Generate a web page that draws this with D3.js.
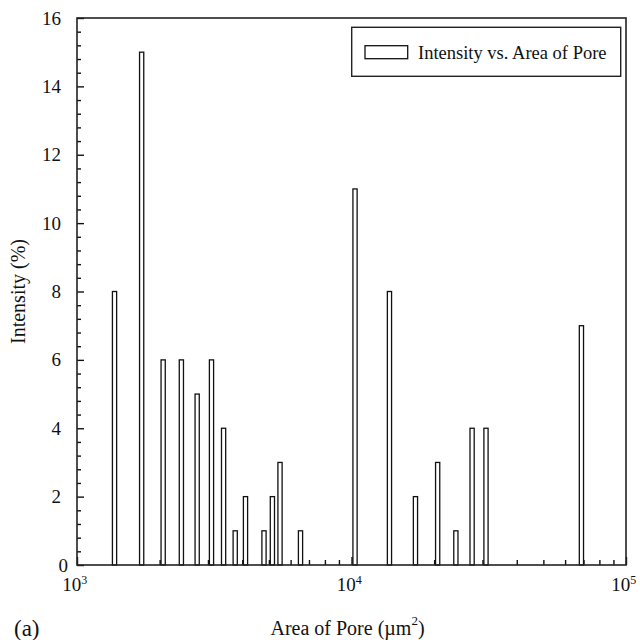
<!DOCTYPE html>
<html>
<head>
<meta charset="utf-8">
<script src="https://cdn.jsdelivr.net/npm/d3@7"></script>
<style>
  body { margin: 0; background: #fff; }
  svg text { font-family: "Liberation Serif", "Times New Roman", serif; fill: #111; }
</style>
</head>
<body>
<div id="chart"></div>
<script>
// pore area (um^2) and intensity (%)
const areas = [1370, 1720, 2060, 2400, 2740, 3090, 3420, 3770, 4110, 4800, 5150,
  5490, 6520, 10300, 13750, 17100, 20600, 24000, 27500, 30900, 68800];
const intensity = [8, 15, 6, 6, 5, 6, 4, 1, 2, 1, 2, 3, 1, 11, 8, 2, 3, 1, 4, 4, 7];

const xMajor = [1e3, 1e4, 1e5];
const xExponents = ['3', '4', '5'];
const yMajor = [0, 2, 4, 6, 8, 10, 12, 14, 16];

const seriesName = 'Intensity vs. Area of Pore';
const xTitle = 'Area of Pore (\u00b5m';
const yTitle = 'Intensity (%)';

const margins = { top: 18, right: 14, bottom: 75, left: 77 };
const canvasWidth = 640;
const canvasHeight = 640;
const width = canvasWidth - margins.left - margins.right;
const height = canvasHeight - margins.top - margins.bottom;
const barWidth = 4.2;

const svg = d3.select('#chart').append('svg')
  .attr('width', canvasWidth)
  .attr('height', canvasHeight);

const plot = svg.append('g')
  .attr('transform', `translate(${margins.left},${margins.top})`);

const x = d3.scaleLog().domain([1e3, 1e5]).range([0, width]);
const y = d3.scaleLinear().domain([0, 16]).range([height, 0]);

const data = areas.map((a, i) => ({ area: a, value: intensity[i] }));

// bars: white fill, black outline
plot.selectAll('.bar')
  .data(data)
  .enter()
  .append('rect')
    .attr('class', 'bar')
    .attr('x', d => x(d.area) - barWidth / 2)
    .attr('y', d => y(d.value))
    .attr('width', barWidth)
    .attr('height', d => y(0) - y(d.value))
    .attr('fill', '#fff')
    .attr('stroke', '#111')
    .attr('stroke-width', 1.3);

// minor ticks
const xMinor = [];
[1e3, 1e4].forEach(base => {
  for (let k = 2; k <= 9; k += 1) xMinor.push(base * k);
});
const yMinor = d3.range(0, 16.001, 0.4).filter(v => Math.abs(v / 2 - Math.round(v / 2)) > 1e-6);

const styleAxis = g => {
  g.select('.domain').remove();
  g.selectAll('.tick line').attr('stroke', '#111').attr('stroke-width', 1.4);
};

plot.append('g')
  .attr('transform', `translate(0,${height})`)
  .call(d3.axisBottom(x).tickValues(xMinor).tickSize(-5).tickFormat(''))
  .call(styleAxis);

const xAxis = plot.append('g')
  .attr('transform', `translate(0,${height})`)
  .call(d3.axisBottom(x).tickValues(xMajor).tickSize(-8).tickPadding(13).tickFormat(() => '10'))
  .call(styleAxis);

xAxis.selectAll('.tick text')
  .attr('font-size', 19)
  .attr('dy', '0.71em')
  .attr('dx', '-0.15em')
  .append('tspan')
    .attr('font-size', 12)
    .attr('dy', '-0.6em')
    .text((d, i) => xExponents[i]);

plot.append('g')
  .call(d3.axisLeft(y).tickValues(yMinor).tickSize(-4).tickFormat(''))
  .call(styleAxis);

const yAxis = plot.append('g')
  .call(d3.axisLeft(y).tickValues(yMajor).tickSize(-7).tickPadding(16).tickFormat(d3.format('d')))
  .call(styleAxis);

yAxis.selectAll('.tick text')
  .attr('font-size', 19)
  .attr('dx', d => (d === 0 ? 7 : 0));

// frame
plot.append('rect')
  .attr('width', width)
  .attr('height', height)
  .attr('fill', 'none')
  .attr('stroke', '#222')
  .attr('stroke-width', 1.6);

// legend
const legend = plot.append('g')
  .attr('transform', `translate(${351.7 - margins.left},${27.3 - margins.top})`);

legend.append('rect')
  .attr('width', 269)
  .attr('height', 49)
  .attr('fill', '#fff')
  .attr('stroke', '#222')
  .attr('stroke-width', 1.4);

legend.append('rect')
  .attr('x', 13.3)
  .attr('y', 18.4)
  .attr('width', 42.7)
  .attr('height', 13)
  .attr('fill', '#fff')
  .attr('stroke', '#111')
  .attr('stroke-width', 1.3);

legend.append('text')
  .attr('x', 66.3)
  .attr('y', 32.2)
  .attr('font-size', 18.5)
  .text(seriesName);

// axis titles
const xLabel = svg.append('text')
  .attr('x', margins.left + width / 2 - 4)
  .attr('y', 635)
  .attr('text-anchor', 'middle')
  .attr('font-size', 20)
  .text(xTitle);
xLabel.append('tspan')
  .attr('font-size', 13)
  .attr('dy', '-0.75em')
  .text('2');
xLabel.append('tspan')
  .attr('dy', '0.49em')
  .text(')');

svg.append('text')
  .attr('transform', `translate(25,${margins.top + height / 2}) rotate(-90)`)
  .attr('text-anchor', 'middle')
  .attr('font-size', 20)
  .text(yTitle);

svg.append('text')
  .attr('x', 14)
  .attr('y', 636)
  .attr('font-size', 23)
  .text('(a)');
</script>
</body>
</html>
